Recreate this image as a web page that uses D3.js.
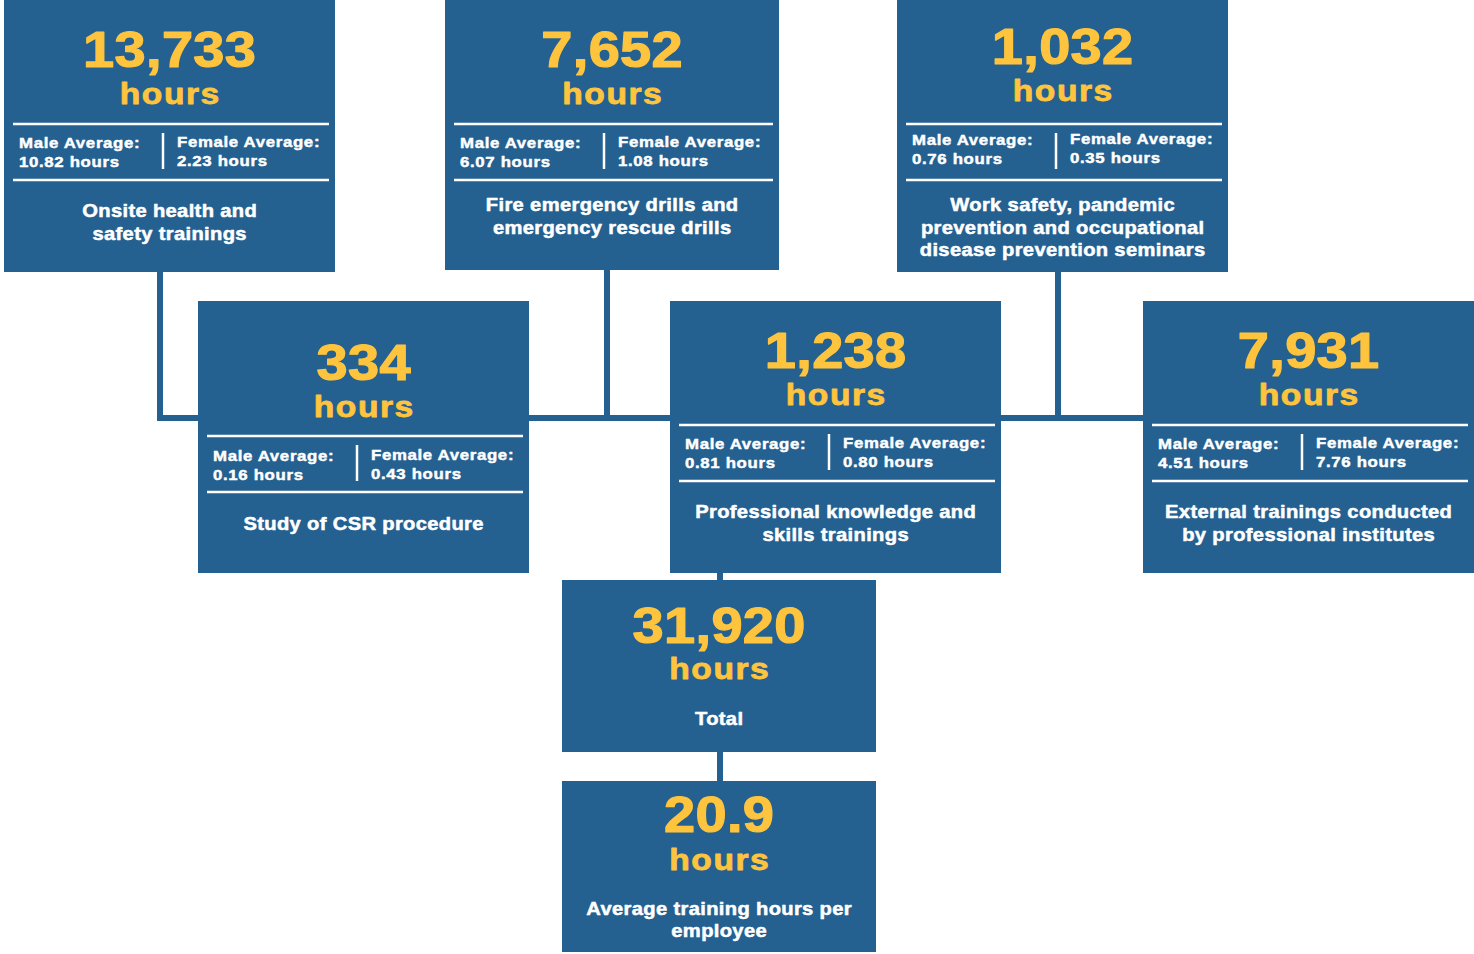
<!DOCTYPE html>
<html>
<head>
<meta charset="utf-8">
<script src="https://cdn.jsdelivr.net/npm/d3@7"></script>
<style>
  html, body { margin: 0; padding: 0; background: #ffffff; }
  svg { display: block; }
  text { font-family: "Liberation Sans", Arial, sans-serif; font-weight: bold; }
</style>
</head>
<body>
<svg id="chart" width="1474" height="954"></svg>
<script>
// ---------------- DATA ----------------
const categories = [
  ["Onsite health and", "safety trainings"],
  ["Fire emergency drills and", "emergency rescue drills"],
  ["Work safety, pandemic", "prevention and occupational", "disease prevention seminars"],
  ["Study of CSR procedure"],
  ["Professional knowledge and", "skills trainings"],
  ["External trainings conducted", "by professional institutes"]
];
const totalHours = [13733, 7652, 1032, 334, 1238, 7931];
const maleAverage = [10.82, 6.07, 0.76, 0.16, 0.81, 4.51];
const femaleAverage = [2.23, 1.08, 0.35, 0.43, 0.80, 7.76];
const grandTotal = 31920;
const grandTotalLabel = ["Total"];
const avgPerEmployee = 20.9;
const avgPerEmployeeLabel = ["Average training hours per", "employee"];
const unitLabel = "hours";
const maleLabel = "Male Average:";
const femaleLabel = "Female Average:";

// ---------------- LAYOUT ----------------
const BLUE = "#246191";
const YELLOW = "#FEC43E";
const WHITE = "#ffffff";
const SX = 1.12; // horizontal stretch of the typeface

const boxLayout = [
  {x: 4,    y: 0,   w: 331, h: 272, dy: 0,  ty: 0,  desc: 217},
  {x: 445,  y: 0,   w: 334, h: 270, dy: 0,  ty: 0,  desc: 211},
  {x: 897,  y: 0,   w: 331, h: 272, dy: 0,  ty: -3, desc: 211},
  {x: 198,  y: 301, w: 331, h: 272, dy: 11, ty: 1,  desc: 229},
  {x: 670,  y: 301, w: 331, h: 272, dy: 0,  ty: 0,  desc: 217},
  {x: 1143, y: 301, w: 331, h: 272, dy: 0,  ty: 0,  desc: 217}
];
const totalLayout = {x: 562, y: 580, w: 314, h: 172, num: 63, unit: 99, desc: 145};
const avgLayout   = {x: 562, y: 781, w: 314, h: 171, num: 51, unit: 89, desc: 134};

const fmtInt = d3.format(",");
const fmtAvg = d3.format(".2f");

const svg = d3.select("#chart");

// helper: horizontally stretched, letter-spaced, slightly emboldened text
function spacedText(g, str, x, y, size, spacing, color, anchor, bold) {
  const mid = !anchor || anchor === "middle";
  return g.append("text")
    .attr("transform", `translate(${mid ? x + spacing * SX / 2 : x},${y}) scale(${SX},1)`)
    .attr("font-size", size)
    .attr("letter-spacing", spacing)
    .attr("text-anchor", anchor || "middle")
    .attr("fill", color)
    .attr("stroke", color)
    .attr("stroke-width", bold)
    .attr("stroke-linejoin", "round")
    .text(str);
}

// ---------------- CONNECTORS ----------------
const conn = svg.append("g")
  .attr("fill", "none")
  .attr("stroke", BLUE)
  .attr("stroke-width", 6);

const busY = 418;
const line = d3.line();
conn.append("path").attr("d", line([[160, boxLayout[0].y + boxLayout[0].h], [160, busY], [boxLayout[3].x, busY]]));
conn.append("path").attr("d", line([[607, boxLayout[1].y + boxLayout[1].h], [607, busY]]));
conn.append("path").attr("d", line([[boxLayout[3].x + boxLayout[3].w, busY], [boxLayout[4].x, busY]]));
conn.append("path").attr("d", line([[1058, boxLayout[2].y + boxLayout[2].h], [1058, busY]]));
conn.append("path").attr("d", line([[boxLayout[4].x + boxLayout[4].w, busY], [boxLayout[5].x, busY]]));
conn.append("path").attr("d", line([[720, boxLayout[4].y + boxLayout[4].h], [720, totalLayout.y]]));
conn.append("path").attr("d", line([[720, totalLayout.y + totalLayout.h], [720, avgLayout.y]]));

// ---------------- CATEGORY BOXES ----------------
const boxes = svg.selectAll("g.box")
  .data(categories.map((c, i) => ({
    lines: c, total: totalHours[i], male: maleAverage[i], female: femaleAverage[i], L: boxLayout[i]
  })))
  .join("g")
  .attr("class", "box")
  .attr("transform", d => `translate(${d.L.x},${d.L.y})`);

boxes.each(function(d) {
  const g = d3.select(this);
  const L = d.L, cx = L.w / 2, o = L.dy, t = o + L.ty;
  g.append("rect").attr("width", L.w).attr("height", L.h).attr("fill", BLUE);
  spacedText(g, fmtInt(d.total), cx, 67 + t, 50, 0.3, YELLOW, "middle", 1.2);
  spacedText(g, unitLabel, cx, 104 + t, 30, 1.4, YELLOW, "middle", 0.8);
  [124 + o, 180 + o].forEach(yy => {
    g.append("line").attr("x1", 9).attr("x2", L.w - 6).attr("y1", yy).attr("y2", yy)
      .attr("stroke", WHITE).attr("stroke-width", 2.5);
  });
  g.append("line").attr("x1", 159).attr("x2", 159).attr("y1", 133 + o).attr("y2", 169 + o)
    .attr("stroke", WHITE).attr("stroke-width", 2.5);
  spacedText(g, maleLabel, 15, 148 + t, 15, 0.6, WHITE, "start", 0.45);
  spacedText(g, fmtAvg(d.male) + " hours", 15, 167 + t, 15, 0.6, WHITE, "start", 0.45);
  spacedText(g, femaleLabel, 173, 147 + t, 15, 0.6, WHITE, "start", 0.45);
  spacedText(g, fmtAvg(d.female) + " hours", 173, 166 + t, 15, 0.6, WHITE, "start", 0.45);
  d.lines.forEach((ln, k) => {
    spacedText(g, ln, cx, L.desc + k * 22.5, 18, 0.3, WHITE, "middle", 0.5);
  });
});

// ---------------- SUMMARY BOXES ----------------
function summaryBox(L, valueStr, descLines) {
  const g = svg.append("g").attr("transform", `translate(${L.x},${L.y})`);
  const cx = L.w / 2;
  g.append("rect").attr("width", L.w).attr("height", L.h).attr("fill", BLUE);
  spacedText(g, valueStr, cx, L.num, 50, 0.3, YELLOW, "middle", 1.2);
  spacedText(g, unitLabel, cx, L.unit, 30, 1.4, YELLOW, "middle", 0.8);
  descLines.forEach((ln, k) => spacedText(g, ln, cx, L.desc + k * 21.5, 18, 0.3, WHITE, "middle", 0.5));
}
summaryBox(totalLayout, fmtInt(grandTotal), grandTotalLabel);
summaryBox(avgLayout, d3.format(".1f")(avgPerEmployee), avgPerEmployeeLabel);
</script>
</body>
</html>
